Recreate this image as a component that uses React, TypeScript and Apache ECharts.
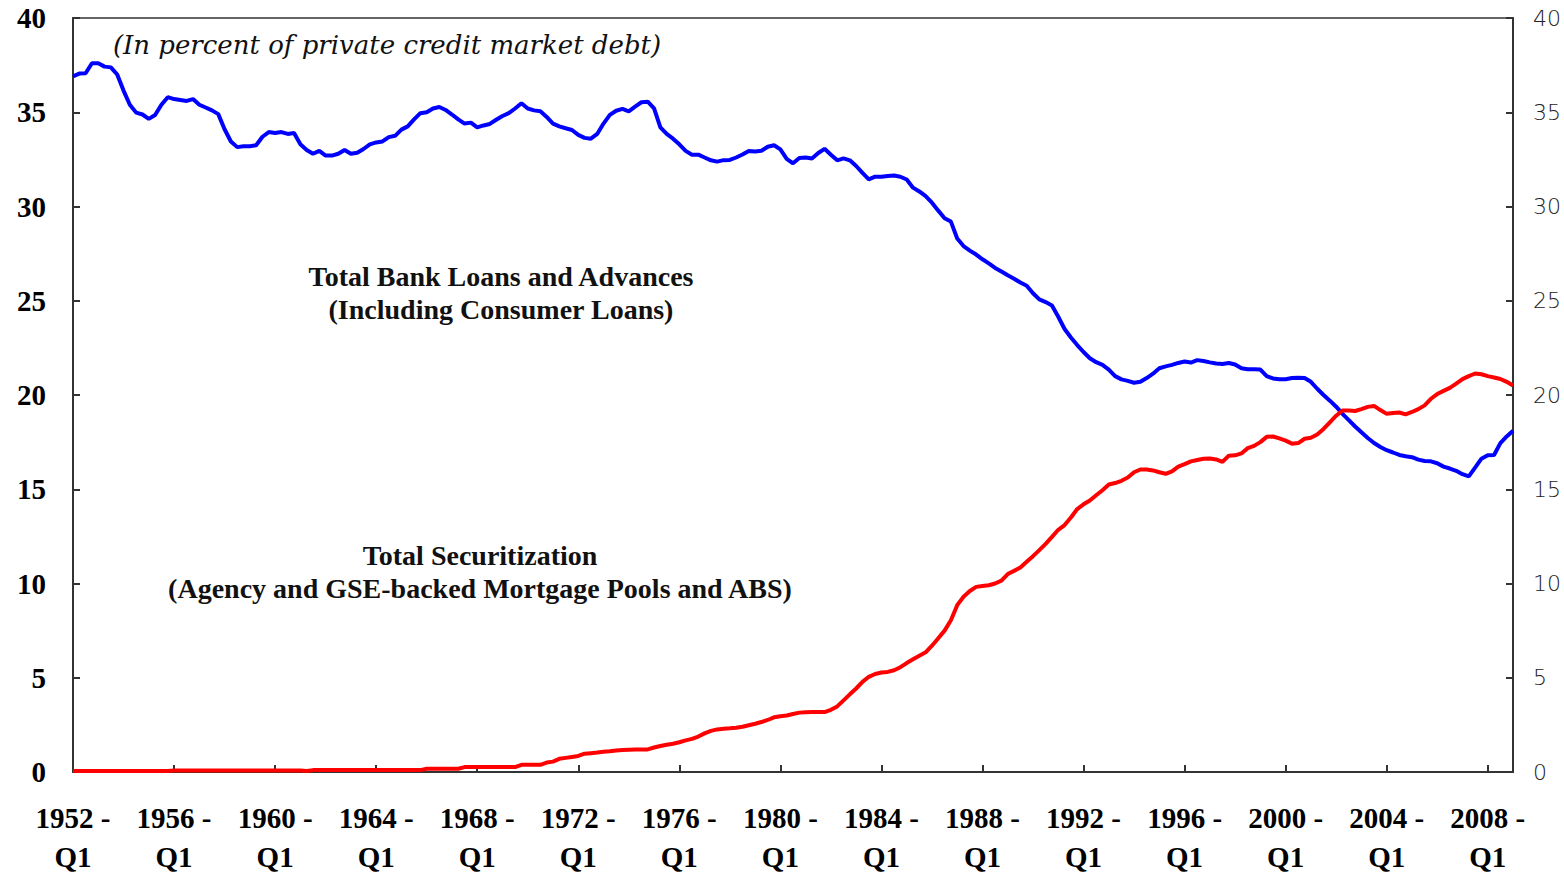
import React, { useEffect, useRef } from "react";
import * as echarts from "echarts";

const startYear = 1952;
const quarterNames = ["Q1", "Q2", "Q3", "Q4"];

// Total Bank Loans and Advances (incl. consumer loans), % of private credit market debt
const bankLoans = [
  36.9, 37.05, 37.07, 37.6,
  37.6, 37.42, 37.38, 37.0,
  36.15, 35.4, 34.98, 34.88,
  34.65, 34.85, 35.4, 35.8,
  35.7, 35.65, 35.6, 35.7,
  35.4, 35.25, 35.1, 34.9,
  34.1, 33.45, 33.15, 33.2,
  33.2, 33.25, 33.7, 33.95,
  33.9, 33.95, 33.85, 33.9,
  33.3, 33.0, 32.8, 32.95,
  32.7, 32.7, 32.8, 33.0,
  32.8, 32.85, 33.05, 33.3,
  33.4, 33.45, 33.68, 33.75,
  34.08, 34.25, 34.62, 34.95,
  35.0, 35.2, 35.28, 35.12,
  34.88, 34.62, 34.4, 34.45,
  34.2, 34.3, 34.38, 34.6,
  34.8, 34.95, 35.2, 35.48,
  35.2, 35.1, 35.05, 34.75,
  34.4, 34.25, 34.15, 34.06,
  33.8, 33.64, 33.6, 33.85,
  34.4, 34.86, 35.08, 35.18,
  35.05, 35.3, 35.53, 35.56,
  35.2, 34.2, 33.85, 33.6,
  33.3, 32.95, 32.75, 32.75,
  32.6, 32.45, 32.38, 32.46,
  32.47, 32.6, 32.76, 32.95,
  32.92, 32.96, 33.17, 33.25,
  33.03, 32.53, 32.29, 32.57,
  32.6, 32.55, 32.84, 33.06,
  32.75, 32.45, 32.55, 32.45,
  32.15, 31.78, 31.44, 31.58,
  31.58, 31.62, 31.64, 31.58,
  31.43, 31.0, 30.8, 30.55,
  30.2, 29.78, 29.38, 29.2,
  28.3, 27.9, 27.66, 27.45,
  27.2, 26.98, 26.74, 26.55,
  26.35, 26.17, 25.97, 25.8,
  25.4, 25.07, 24.93, 24.75,
  24.15, 23.5, 23.05, 22.65,
  22.28, 21.95, 21.74, 21.6,
  21.35, 21.0, 20.83, 20.75,
  20.65, 20.7, 20.9, 21.13,
  21.42, 21.52, 21.6, 21.7,
  21.78, 21.72, 21.85, 21.8,
  21.73, 21.67, 21.65, 21.7,
  21.62, 21.42, 21.37, 21.37,
  21.35, 21.0, 20.88, 20.84,
  20.84, 20.9, 20.92, 20.9,
  20.7, 20.33, 20.0, 19.7,
  19.38, 19.0, 18.67, 18.33,
  18.02, 17.72, 17.45, 17.24,
  17.07, 16.95, 16.82, 16.75,
  16.7, 16.57, 16.5, 16.48,
  16.38, 16.2, 16.1, 15.98,
  15.8, 15.68, 16.15, 16.62,
  16.8, 16.82, 17.45, 17.8,
  18.1,
];

// Total Securitization (Agency and GSE-backed mortgage pools and ABS)
const securitization = [
  0.05, 0.05, 0.05, 0.05,
  0.05, 0.05, 0.05, 0.05,
  0.05, 0.05, 0.05, 0.05,
  0.05, 0.05, 0.05, 0.05,
  0.08, 0.08, 0.08, 0.08,
  0.08, 0.08, 0.08, 0.08,
  0.08, 0.08, 0.08, 0.08,
  0.08, 0.08, 0.08, 0.08,
  0.08, 0.08, 0.08, 0.08,
  0.08, 0.05, 0.1, 0.1,
  0.1, 0.1, 0.1, 0.1,
  0.1, 0.1, 0.1, 0.1,
  0.1, 0.1, 0.1, 0.1,
  0.1, 0.1, 0.1, 0.1,
  0.17, 0.17, 0.17, 0.17,
  0.17, 0.17, 0.26, 0.26,
  0.26, 0.26, 0.26, 0.26,
  0.26, 0.26, 0.26, 0.38,
  0.38, 0.38, 0.38, 0.5,
  0.55, 0.7, 0.75, 0.8,
  0.85, 0.97, 1.0, 1.03,
  1.07, 1.1, 1.14, 1.17,
  1.18, 1.19, 1.2, 1.2,
  1.3, 1.38, 1.45, 1.5,
  1.58, 1.68, 1.76, 1.88,
  2.05, 2.18, 2.26, 2.3,
  2.32, 2.35, 2.4, 2.48,
  2.56, 2.65, 2.76, 2.9,
  2.96, 3.0, 3.08, 3.15,
  3.17, 3.18, 3.18, 3.18,
  3.3, 3.48, 3.8, 4.12,
  4.43, 4.78, 5.05, 5.2,
  5.28, 5.31, 5.4, 5.56,
  5.78, 5.98, 6.17, 6.35,
  6.7, 7.1, 7.5, 8.05,
  8.85, 9.3, 9.6, 9.82,
  9.87, 9.91, 10.0, 10.15,
  10.5, 10.67, 10.85, 11.15,
  11.45, 11.77, 12.1, 12.47,
  12.85, 13.1, 13.5, 13.95,
  14.2, 14.4, 14.68, 14.95,
  15.25, 15.33, 15.45, 15.62,
  15.9, 16.05, 16.05, 16.0,
  15.9, 15.82, 15.95, 16.2,
  16.33, 16.48, 16.55, 16.62,
  16.63, 16.58, 16.45, 16.78,
  16.8, 16.9, 17.18, 17.3,
  17.5, 17.78, 17.8, 17.7,
  17.58, 17.42, 17.45, 17.68,
  17.73, 17.9, 18.2, 18.55,
  18.9, 19.18, 19.18, 19.15,
  19.25, 19.37, 19.42, 19.2,
  19.0, 19.05, 19.07, 18.97,
  19.1, 19.25, 19.45, 19.8,
  20.05, 20.22, 20.38, 20.6,
  20.84, 21.0, 21.14, 21.1,
  21.0, 20.93, 20.85, 20.7,
  20.5,
];

const yTicks = { min: 0, max: 40, interval: 5 };

const categories: string[] = bankLoans.map(
  (_, i) => `${startYear + Math.floor(i / 4)} - ${quarterNames[i % 4]}`
);

const boldSerif = "'Liberation Serif', 'Times New Roman', serif";

export default function App() {
  const ref = useRef<HTMLDivElement>(null);

  useEffect(() => {
    if (!ref.current) return;
    const chart = echarts.init(ref.current, undefined, { renderer: "svg" });
    const axisColor = "#333";
    chart.setOption({
      animation: false,
      backgroundColor: "#fff",
      grid: {
        left: 73,
        right: 50,
        top: 18,
        bottom: 104,
        show: true,
        borderColor: axisColor,
        borderWidth: 1.5,
      },
      xAxis: {
        type: "category",
        data: categories,
        boundaryGap: false,
        axisLine: { lineStyle: { color: axisColor, width: 2 } },
        axisTick: {
          show: true,
          interval: (i: number) => i % 16 === 0,
          inside: true,
          length: 7,
          lineStyle: { color: axisColor, width: 2 },
        },
        axisLabel: {
          interval: (i: number) => i % 16 === 0,
          formatter: (v: string) => v.replace(" - ", " -\n"),
          fontFamily: boldSerif,
          fontWeight: "bold",
          fontSize: 29,
          color: "#000",
          lineHeight: 39,
          margin: 26,
        },
        splitLine: { show: false },
      },
      yAxis: [
        {
          type: "value",
          position: "left",
          ...yTicks,
          axisLine: { show: true, lineStyle: { color: axisColor, width: 2 } },
          axisTick: { show: true, inside: true, length: 7, lineStyle: { color: axisColor, width: 2 } },
          axisLabel: {
            fontFamily: boldSerif,
            fontWeight: "bold",
            fontSize: 29,
            color: "#000",
            margin: 27,
          },
          splitLine: { show: false },
        },
        {
          type: "value",
          position: "right",
          ...yTicks,
          axisLine: { show: true, lineStyle: { color: axisColor, width: 2 } },
          axisTick: { show: true, inside: true, length: 7, lineStyle: { color: axisColor, width: 2 } },
          axisLabel: {
            fontFamily: "'DejaVu Sans', sans-serif",
            fontWeight: 200,
            fontSize: 22,
            color: "#222",
            margin: 20,
          },
          splitLine: { show: false },
        },
      ],
      series: [
        {
          name: "Total Bank Loans and Advances",
          type: "line",
          data: bankLoans,
          yAxisIndex: 0,
          showSymbol: false,
          lineStyle: { color: "#0000ff", width: 4 },
          itemStyle: { color: "#0000ff" },
        },
        {
          name: "Total Securitization",
          type: "line",
          data: securitization,
          yAxisIndex: 0,
          showSymbol: false,
          lineStyle: { color: "#ff0000", width: 4 },
          itemStyle: { color: "#ff0000" },
        },
      ],
      graphic: [
        {
          type: "text",
          x: 387,
          y: 45,
          style: {
            text: "(In percent of private credit market debt)",
            fontFamily: "'DejaVu Serif', serif",
            fontStyle: "italic",
            fontSize: 26,
            fill: "#111",
            textAlign: "center",
            textVerticalAlign: "middle",
          },
        },
        {
          type: "text",
          x: 501,
          y: 293,
          style: {
            text: "Total Bank Loans and Advances\n(Including Consumer Loans)",
            fontFamily: boldSerif,
            fontWeight: "bold",
            fontSize: 28,
            lineHeight: 33,
            fill: "#111",
            textAlign: "center",
            textVerticalAlign: "middle",
          },
        },
        {
          type: "text",
          x: 480,
          y: 572,
          style: {
            text: "Total Securitization\n(Agency and GSE-backed Mortgage Pools and ABS)",
            fontFamily: boldSerif,
            fontWeight: "bold",
            fontSize: 28,
            lineHeight: 33,
            fill: "#111",
            textAlign: "center",
            textVerticalAlign: "middle",
          },
        },
      ],
    });
    return () => chart.dispose();
  }, []);

  return (
    <div
      ref={ref}
      style={{ position: "fixed", left: 0, top: 0, width: 1564, height: 876 }}
    />
  );
}
